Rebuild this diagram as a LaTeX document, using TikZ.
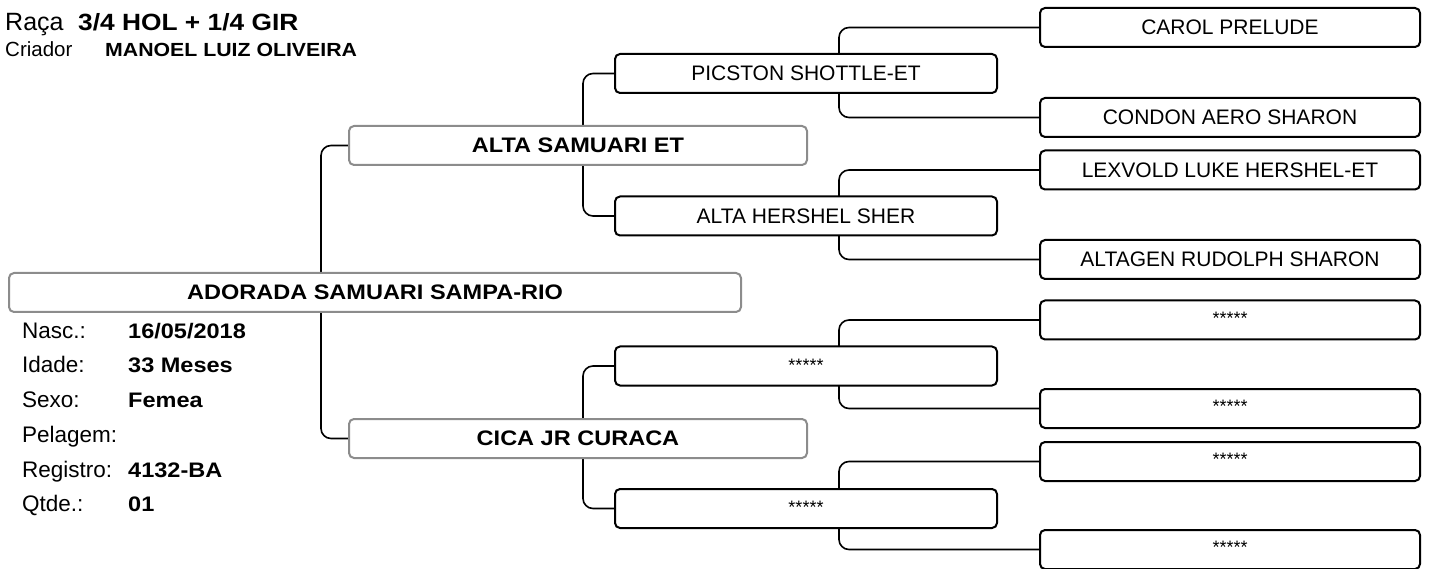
\documentclass[tikz,border=0pt]{standalone}
\usepackage{fontspec}
\setmainfont{Liberation Sans}[BoldFeatures={FakeStretch=1.12}]
\usepackage{tikz}
\usetikzlibrary{positioning,calc,backgrounds}

\begin{document}
\begin{tikzpicture}[x=1pt,y=-1pt,
  box/.style={draw,line width=2pt,rounded corners=5pt,fill=white,minimum height=39pt,inner sep=0pt,font=\fontsize{21}{25}\selectfont},
  greybox/.style={box,draw=black!45,font=\fontsize{21}{25}\selectfont\bfseries},
  gentwo/.style={box,minimum width=382pt},
  genthree/.style={box,minimum width=380pt},
  nodata/.style={font=\fontsize{18}{21}\selectfont},
  link/.style={line width=1.6pt,rounded corners=10pt},
  lbl/.style={anchor=base west,inner sep=0pt,font=\fontsize{22.5}{26}\selectfont},
  val/.style={anchor=base west,inner sep=0pt,font=\fontsize{21}{25}\selectfont\bfseries}]
\useasboundingbox (0,0) rectangle (1430,569);
% Header
\node[lbl,font=\fontsize{25}{29}\selectfont] (raca) at (5,31) {Raça};
\node[val,font=\fontsize{23.5}{28}\selectfont\bfseries] (racav) at (78,31) {3/4 HOL + 1/4 GIR};
\node[lbl,font=\fontsize{20.5}{24}\selectfont] (criador) at (5,57) {Criador};
\node[val,font=\fontsize{19}{23}\selectfont\bfseries] (criadorv) at (105,57) {MANOEL LUIZ OLIVEIRA};
% Animal data
\node[lbl] (nasc) at (22,338) {Nasc.:};
\node[val] (nascv) at (128,338) {16/05/2018};
\node[lbl] (idade) at (22,373) {Idade:};
\node[val] (idadev) at (128,373) {33 Meses};
\node[lbl] (sexo) at (22,407) {Sexo:};
\node[val] (sexov) at (128,407) {Femea};
\node[lbl] (pelagem) at (22,442) {Pelagem:};
\node[lbl] (registro) at (22,477) {Registro:};
\node[val] (registrov) at (128,477) {4132-BA};
\node[lbl] (qtde) at (22,511) {Qtde.:};
\node[val] (qtdev) at (128,511) {01};
% Animal, parents
\node[greybox,minimum width=732pt] (animal) at (375,292.5) {ADORADA SAMUARI SAMPA-RIO};
\node[greybox,minimum width=458pt] (sire) at (578,145.5) {ALTA SAMUARI ET};
\node[greybox,minimum width=458pt] (dam) at (578,438.5) {CICA JR CURACA};
% Grandparents
\node[gentwo] (ss) at (806,73.5) {PICSTON SHOTTLE-ET};
\node[gentwo] (sd) at (806,216) {ALTA HERSHEL SHER};
\node[gentwo,nodata] (ds) at (806,366) {\raisebox{2pt}{*****}};
\node[gentwo,nodata] (dd) at (806,508.5) {\raisebox{2pt}{*****}};
% Great-grandparents
\node[genthree] (sss) at (1230,27.5) {CAROL PRELUDE};
\node[genthree] (ssd) at (1230,117.5) {CONDON AERO SHARON};
\node[genthree] (sds) at (1230,170) {LEXVOLD LUKE HERSHEL-ET};
\node[genthree] (sdd) at (1230,259.5) {ALTAGEN RUDOLPH SHARON};
\node[genthree,nodata] (dss) at (1230,320) {\raisebox{4pt}{*****}};
\node[genthree,nodata] (dsd) at (1230,408.5) {\raisebox{4pt}{*****}};
\node[genthree,nodata] (dds) at (1230,461.5) {\raisebox{4pt}{*****}};
\node[genthree,nodata] (ddd) at (1230,549.5) {\raisebox{4pt}{*****}};
% Connectors
\begin{scope}[on background layer]
\draw[link] (sire.west) -- ++(-27,0) |- (dam.west);
\draw[link] (ss.west) -- ++(-31,0) |- (sd.west);
\draw[link] (ds.west) -- ++(-31,0) |- (dd.west);
\draw[link] (sss.west) -- ++(-200,0) |- (ssd.west);
\draw[link] (sds.west) -- ++(-200,0) |- (sdd.west);
\draw[link] (dss.west) -- ++(-200,0) |- (dsd.west);
\draw[link] (dds.west) -- ++(-200,0) |- (ddd.west);
\end{scope}
\end{tikzpicture}
\end{document}
